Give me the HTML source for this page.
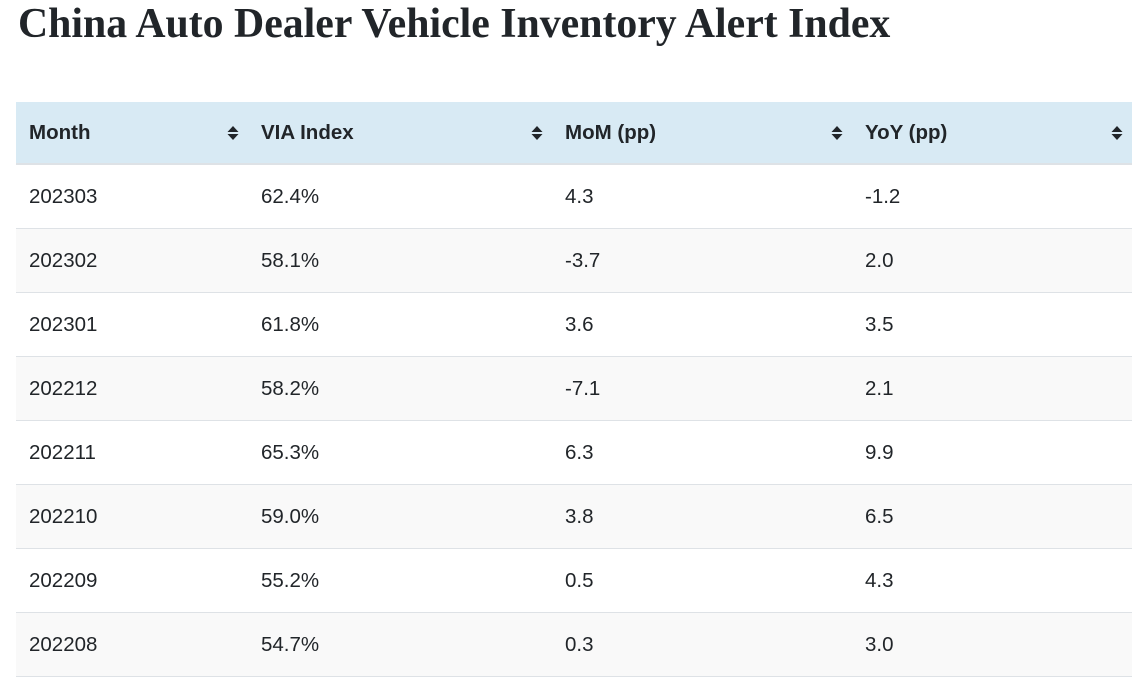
<!DOCTYPE html>
<html>
<head>
<meta charset="utf-8">
<style>
  html, body { margin:0; padding:0; background:#fff; }
  body { width:1144px; height:670px; overflow:hidden; position:relative; font-family:"Liberation Sans", Arial, sans-serif; color:#212529; }
  h1 { position:absolute; left:18px; top:0px; margin:0; font-family:"Liberation Serif", "Times New Roman", serif; font-weight:bold; font-size:41.8px; line-height:48px; color:#212529; white-space:nowrap; }
  .tbl { position:absolute; left:16px; top:102px; width:1116px; }
  .row { position:relative; height:63px; border-bottom:1px solid #dee2e6; }
  .hdr { height:61px; background:#d8eaf4; border-bottom:2px solid #dee2e6; }
  .row.s { background:#f9f9f9; }
  .c { position:absolute; top:0; height:100%; display:flex; align-items:center; font-size:20.5px; }
  .hdr .c { font-weight:bold; }
  .c1 { left:13px; } .c2 { left:245px; } .c3 { left:549px; } .c4 { left:849px; }
  .ic { position:absolute; top:23px; width:12px; height:16px; }
</style>
</head>
<body>
<h1>China Auto Dealer Vehicle Inventory Alert Index</h1>
<div class="tbl">
  <div class="row hdr">
    <div class="c c1">Month</div>
    <svg class="ic" style="left:211px" viewBox="0 0 12 16"><path d="M6 1 L11.5 7 H0.5 Z M0.5 9 H11.5 L6 15 Z" fill="#212529"/></svg>
    <div class="c c2">VIA Index</div>
    <svg class="ic" style="left:515px" viewBox="0 0 12 16"><path d="M6 1 L11.5 7 H0.5 Z M0.5 9 H11.5 L6 15 Z" fill="#212529"/></svg>
    <div class="c c3">MoM (pp)</div>
    <svg class="ic" style="left:815px" viewBox="0 0 12 16"><path d="M6 1 L11.5 7 H0.5 Z M0.5 9 H11.5 L6 15 Z" fill="#212529"/></svg>
    <div class="c c4">YoY (pp)</div>
    <svg class="ic" style="left:1095px" viewBox="0 0 12 16"><path d="M6 1 L11.5 7 H0.5 Z M0.5 9 H11.5 L6 15 Z" fill="#212529"/></svg>
  </div>
  <div class="row"><div class="c c1">202303</div><div class="c c2">62.4%</div><div class="c c3">4.3</div><div class="c c4">-1.2</div></div>
  <div class="row s"><div class="c c1">202302</div><div class="c c2">58.1%</div><div class="c c3">-3.7</div><div class="c c4">2.0</div></div>
  <div class="row"><div class="c c1">202301</div><div class="c c2">61.8%</div><div class="c c3">3.6</div><div class="c c4">3.5</div></div>
  <div class="row s"><div class="c c1">202212</div><div class="c c2">58.2%</div><div class="c c3">-7.1</div><div class="c c4">2.1</div></div>
  <div class="row"><div class="c c1">202211</div><div class="c c2">65.3%</div><div class="c c3">6.3</div><div class="c c4">9.9</div></div>
  <div class="row s"><div class="c c1">202210</div><div class="c c2">59.0%</div><div class="c c3">3.8</div><div class="c c4">6.5</div></div>
  <div class="row"><div class="c c1">202209</div><div class="c c2">55.2%</div><div class="c c3">0.5</div><div class="c c4">4.3</div></div>
  <div class="row s"><div class="c c1">202208</div><div class="c c2">54.7%</div><div class="c c3">0.3</div><div class="c c4">3.0</div></div>
</div>
</body>
</html>
